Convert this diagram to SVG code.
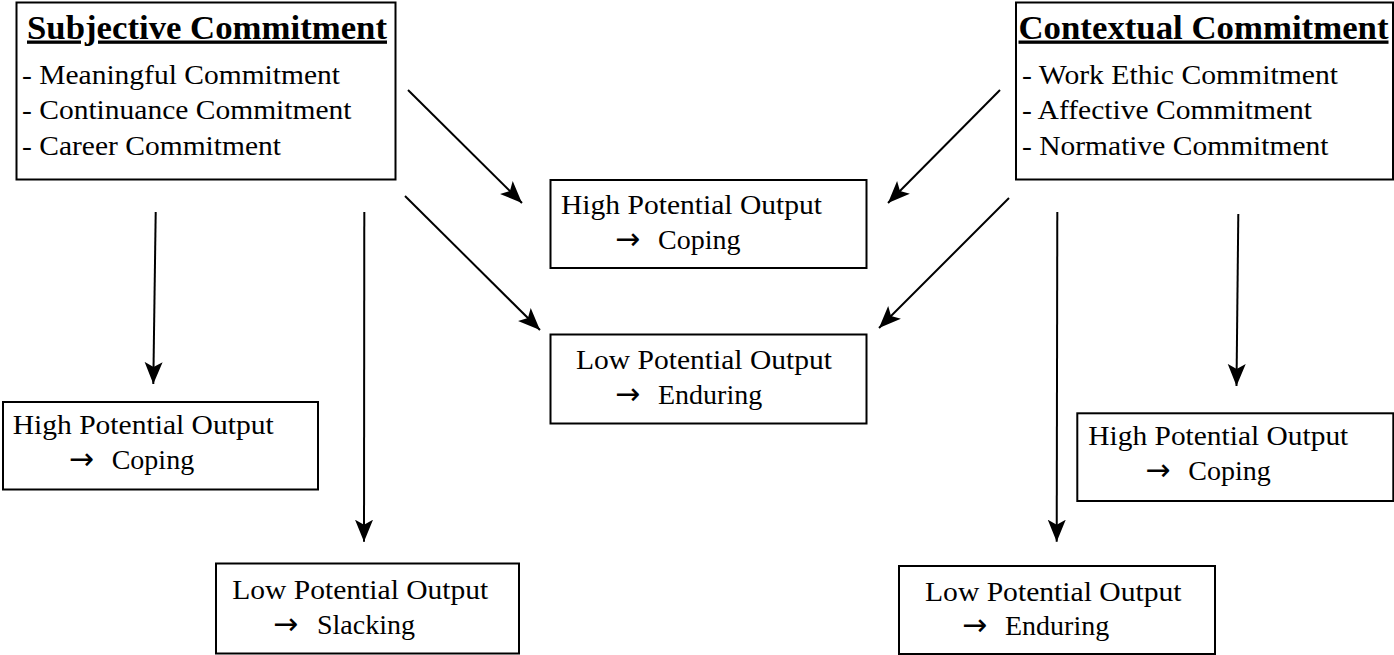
<svg xmlns="http://www.w3.org/2000/svg" width="1394" height="655" viewBox="0 0 1394 655">
  <style>
    .box { fill: #ffffff; stroke: #000000; stroke-width: 2; }
    .t { font-family: "Liberation Serif", "Times New Roman", serif; font-size: 27px; fill: #000000; }
    .w { font-size: 28px; }
    .arr { font-family: "DejaVu Sans", sans-serif; font-size: 30px; }
    .title { font-family: "Liberation Serif", "Times New Roman", serif; font-size: 33px; font-weight: bold; fill: #000000; text-decoration: underline; }
    .conn { stroke: #000000; stroke-width: 2; fill: none; marker-end: url(#arrow); }
  </style>
  <defs>
    <marker id="arrow" markerUnits="userSpaceOnUse" viewBox="0 -10 24 20" markerWidth="24" markerHeight="20" refX="22" refY="0" orient="auto">
      <path d="M0,-9 L22,0 L0,9 L5,0 Z" fill="#000000"/>
    </marker>
  </defs>
  <rect x="0" y="0" width="1394" height="655" fill="#ffffff"/>

  <g id="subjective">
    <rect class="box" x="16.5" y="2.5" width="379" height="177"/>
    <text class="title" x="27" y="38.5" textLength="360" lengthAdjust="spacingAndGlyphs">Subjective Commitment</text>
    <text class="t" x="22" y="83.5" textLength="318" lengthAdjust="spacingAndGlyphs">- Meaningful Commitment</text>
    <text class="t" x="22" y="119" textLength="329.5" lengthAdjust="spacingAndGlyphs">- Continuance Commitment</text>
    <text class="t" x="22" y="154.5" textLength="259" lengthAdjust="spacingAndGlyphs">- Career Commitment</text>
  </g>

  <g id="contextual">
    <rect class="box" x="1016" y="2.5" width="377" height="177"/>
    <text class="title" x="1018.5" y="38.5" textLength="370" lengthAdjust="spacingAndGlyphs">Contextual Commitment</text>
    <text class="t" x="1022" y="83.5" textLength="316" lengthAdjust="spacingAndGlyphs">- Work Ethic Commitment</text>
    <text class="t" x="1022" y="119" textLength="290" lengthAdjust="spacingAndGlyphs">- Affective Commitment</text>
    <text class="t" x="1022" y="154.5" textLength="306.5" lengthAdjust="spacingAndGlyphs">- Normative Commitment</text>
  </g>

  <g id="mid-high">
    <rect class="box" x="550.5" y="180" width="316" height="88"/>
    <text class="t" x="561" y="214" textLength="261" lengthAdjust="spacingAndGlyphs">High Potential Output</text>
    <text class="t" y="249"><tspan class="arr" x="615">→</tspan> <tspan class="w" x="658">Coping</tspan></text>
  </g>

  <g id="mid-low">
    <rect class="box" x="550.5" y="334.5" width="316" height="89"/>
    <text class="t" x="576" y="369" textLength="256" lengthAdjust="spacingAndGlyphs">Low Potential Output</text>
    <text class="t" y="404"><tspan class="arr" x="615">→</tspan> <tspan class="w" x="658">Enduring</tspan></text>
  </g>

  <g id="left-high">
    <rect class="box" x="3" y="402" width="315" height="87.5"/>
    <text class="t" x="12.7" y="434" textLength="261" lengthAdjust="spacingAndGlyphs">High Potential Output</text>
    <text class="t" y="469"><tspan class="arr" x="68.7">→</tspan> <tspan class="w" x="111.7">Coping</tspan></text>
  </g>

  <g id="left-low">
    <rect class="box" x="216" y="563.5" width="303" height="90"/>
    <text class="t" x="232.3" y="599" textLength="256" lengthAdjust="spacingAndGlyphs">Low Potential Output</text>
    <text class="t" y="633.5"><tspan class="arr" x="273">→</tspan> <tspan class="w" x="317">Slacking</tspan></text>
  </g>

  <g id="right-high">
    <rect class="box" x="1077.3" y="413.3" width="316" height="87.7"/>
    <text class="t" x="1088.3" y="445" textLength="260" lengthAdjust="spacingAndGlyphs">High Potential Output</text>
    <text class="t" y="480"><tspan class="arr" x="1145.3">→</tspan> <tspan class="w" x="1188.3">Coping</tspan></text>
  </g>

  <g id="right-low">
    <rect class="box" x="899" y="566" width="316" height="88"/>
    <text class="t" x="925" y="600.5" textLength="256.5" lengthAdjust="spacingAndGlyphs">Low Potential Output</text>
    <text class="t" y="635"><tspan class="arr" x="962">→</tspan> <tspan class="w" x="1005">Enduring</tspan></text>
  </g>

  <g id="connectors">
    <line class="conn" x1="408" y1="90" x2="522" y2="203"/>
    <line class="conn" x1="405" y1="196" x2="540" y2="330"/>
    <line class="conn" x1="1000" y1="90" x2="888" y2="203"/>
    <line class="conn" x1="1009" y1="198" x2="879" y2="328"/>
    <line class="conn" x1="155.7" y1="212" x2="153.3" y2="384"/>
    <line class="conn" x1="364.3" y1="212" x2="364" y2="541.7"/>
    <line class="conn" x1="1057.3" y1="212" x2="1056.7" y2="541.7"/>
    <line class="conn" x1="1238.3" y1="214" x2="1236.5" y2="386"/>
  </g>
</svg>
